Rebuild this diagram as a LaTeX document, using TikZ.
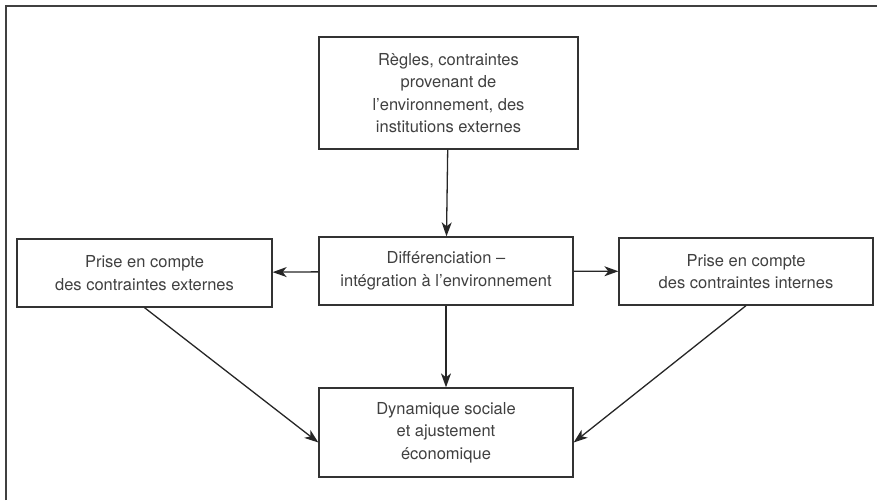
\documentclass[tikz,border=0pt]{standalone}
\usepackage{fontspec}
\setmainfont{TeX Gyre Heros}
\usepackage{tikz}
\usetikzlibrary{
    arrows.meta,
    positioning
}
\tikzset{bloc/.style={draw=black!80, line width=1.3pt, align=center, inner sep=2pt,
    text=black!75, font=\fontsize{16.5}{22.5}\selectfont}}
\tikzset{fl/.style={-{Stealth[length=14pt, width=10pt, inset=4pt]}, draw=black!85, line width=1.3pt}}

\begin{document}
\begin{tikzpicture}[x=1pt, y=-1pt]
                    \useasboundingbox (0, 0) rectangle (877, 500);

                    % cadre
                    \draw[black!75, line width=2pt] (6, 500) -- (6, 6) -- (877, 6);

                    \node[bloc, minimum width=259pt, minimum height=112pt] (regles) at (448.5, 93)
                        {Règles, contraintes\\provenant de\\l’environnement, des\\institutions externes};
                    \node[bloc, minimum width=254pt, minimum height=68pt] (diff) at (446, 271)
                        {Différenciation –\\intégration à l’environnement};
                    \node[bloc, minimum width=255pt, minimum height=68pt] (ext) at (144.5, 273)
                        {Prise en compte\\des contraintes externes};
                    \node[bloc, minimum width=254pt, minimum height=67pt] (int) at (746, 271.5)
                        {Prise en compte\\des contraintes internes};
                    \node[bloc, minimum width=254pt, minimum height=89pt] (dyn) at (446, 432.5)
                        {Dynamique sociale\\et ajustement\\économique};

                    \draw[fl] (regles) -- (diff);
                    \draw[fl] (diff) -- (ext);
                    \draw[fl] (diff) -- (int);
                    \draw[fl] (diff) -- (dyn);
                    \draw[fl] (ext.south) -- ([yshift=-10pt]dyn.west);
                    \draw[fl] (int.south) -- ([yshift=-10pt]dyn.east);
                \end{tikzpicture}
\end{document}
